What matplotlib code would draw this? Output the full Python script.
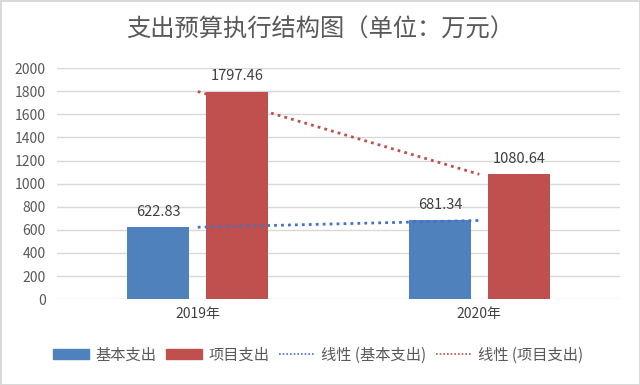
import matplotlib
matplotlib.use("Agg")
import matplotlib.pyplot as plt
from matplotlib.patches import Patch
from matplotlib.lines import Line2D

plt.rcParams['font.family'] = ['Noto Sans CJK SC', 'DejaVu Sans']

# data
years = ['2019年', '2020年']
basic = [622.83, 681.34]
project = [1797.46, 1080.64]
series_names = ['基本支出', '项目支出']
trend_names = ['线性 (基本支出)', '线性 (项目支出)']
y_ticks = list(range(0, 2001, 200))

blue = '#4F81BD'
red = '#C0504D'
dots = (0, (1, 1.5))

fig = plt.figure(figsize=(6.4, 3.85), dpi=100)
fig.patch.set_edgecolor('#D9D9D9')
fig.patch.set_linewidth(2)
ax = fig.add_axes([0.089, 0.223, 0.88, 0.60])

x = list(range(len(years)))
w = 0.22
off = 0.14
ax.bar([i - off for i in x], basic, width=w, color=blue, zorder=3)
ax.bar([i + off for i in x], project, width=w, color=red, zorder=3)

for i in x:
    ax.text(i - off, basic[i] + 70, f'{basic[i]:.2f}', ha='center', va='bottom',
            fontsize=10.5, color='#404040')
    ax.text(i + off, project[i] + 70, f'{project[i]:.2f}', ha='center', va='bottom',
            fontsize=10.5, color='#404040')

# linear trendlines through category centres
ax.plot(x, basic, linestyle=dots, color='#4472C4', lw=2, zorder=4)
ax.plot(x, project, linestyle=dots, color=red, lw=2, zorder=4)

ax.set_xlim(-0.5, 1.5)
ax.set_ylim(0, 2000)
ax.set_yticks(y_ticks)
ax.set_xticks(x)
ax.set_xticklabels(years, fontsize=10, color='#404040')
ax.tick_params(axis='y', labelsize=10, labelcolor='#595959', length=0, pad=8)
ax.tick_params(axis='x', length=0, pad=6)
ax.grid(axis='y', color='#D9D9D9', lw=1, zorder=0)
for s in ax.spines.values():
    s.set_visible(False)

fig.suptitle('支出预算执行结构图（单位：万元）', y=0.958, fontsize=17.5, color='#595959')

handles = [Patch(color=blue), Patch(color=red),
           Line2D([], [], linestyle=(0, (1, 1.2)), color='#4472C4', lw=1.2),
           Line2D([], [], linestyle=(0, (1, 1.2)), color=red, lw=1.2)]
fig.legend(handles, series_names + trend_names, loc='center', bbox_to_anchor=(0.497, 0.078),
           ncol=4, frameon=False, fontsize=11, handlelength=2.4, handleheight=0.6,
           handletextpad=0.4, columnspacing=0.6, labelcolor='#595959')

fig.savefig('out.png', dpi=100, edgecolor=fig.get_edgecolor())
